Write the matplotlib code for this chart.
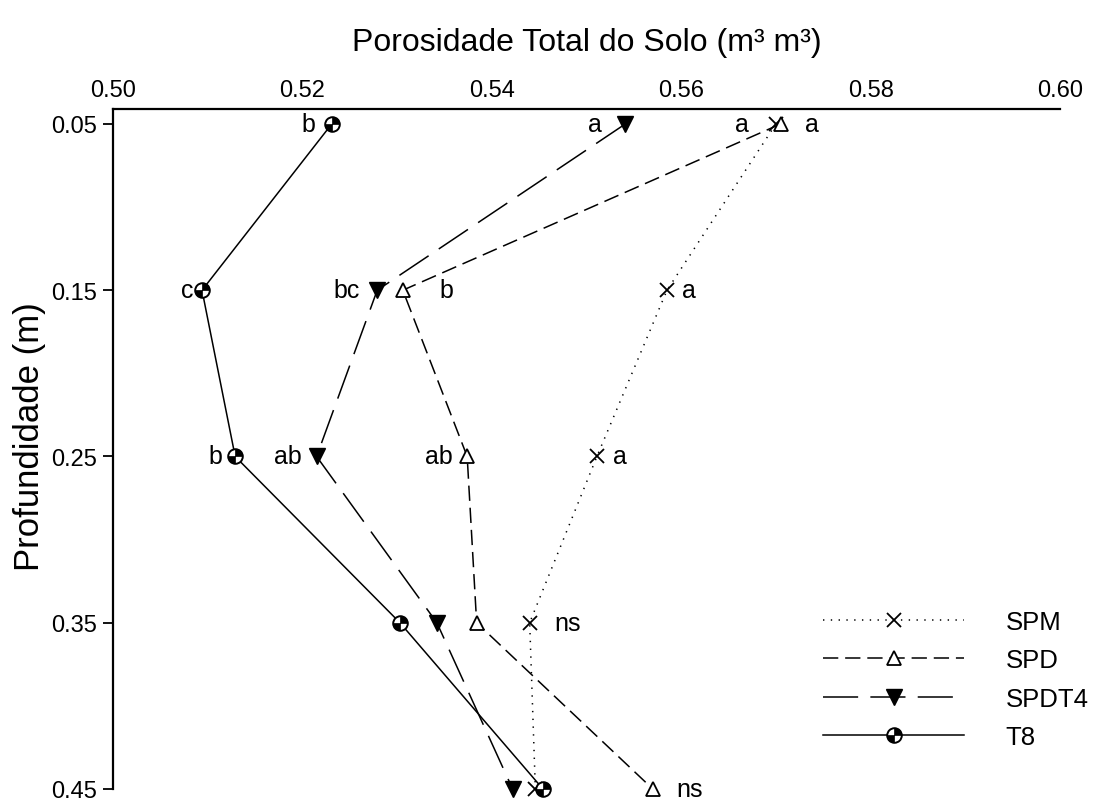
import numpy as np
import matplotlib
matplotlib.use("Agg")
import matplotlib.pyplot as plt
from matplotlib.path import Path
from matplotlib.legend_handler import HandlerTuple

plt.rcParams['font.family'] = ['Liberation Sans', 'DejaVu Sans']

depth = [0.05, 0.15, 0.25, 0.35, 0.45]
spm = [0.5700, 0.5585, 0.5511, 0.5440, 0.5446]
spd = [0.5705, 0.5306, 0.5374, 0.5384, 0.5570]
spdt4 = [0.5541, 0.5279, 0.5215, 0.5342, 0.5422]
t8 = [0.5231, 0.5094, 0.5129, 0.5303, 0.5454]

spm_lab = ['a', 'a', 'a', 'ns', '']
spd_lab = ['a', 'b', 'ab', '', 'ns']
spdt4_lab = ['a', 'bc', 'ab', '', '']
t8_lab = ['b', 'c', 'b', '', '']

# label placement (styling): side and gap in pixels from marker centre
spm_side = ['r', 'r', 'r', 'r', 'r']
spm_gap = [29, 15, 16, 25, 0]
spd_side = ['l', 'r', 'l', 'r', 'r']
spd_gap = [32, 37, 14, 0, 24]
spdt4_side = ['l', 'l', 'l', 'l', 'l']
spdt4_gap = [23, 17, 15, 0, 0]
t8_side = ['l', 'l', 'l', 'l', 'l']
t8_gap = [16, 9, 13, 0, 0]

xticks = [0.50, 0.52, 0.54, 0.56, 0.58, 0.60]
yticks = [0.05, 0.15, 0.25, 0.35, 0.45]

fig = plt.figure(figsize=(10.98, 8.03), dpi=100)
ax = fig.add_axes([113/1098, 1-790/803, (1060-113)/1098, (790-110)/803])

lw = 1.1
common = dict(color='black', lw=lw, clip_on=False)
l1, = ax.plot(spm, depth, ls=(0, (0.9, 4.2)), marker='x',
              ms=10, mew=1.3, label='SPM', **common)
l2, = ax.plot(spd, depth, ls=(0, (10, 4.5)), marker='^',
              ms=10, mfc='white', mec='black', mew=1.3, label='SPD', **common)
l3, = ax.plot(spdt4, depth, ls=(0, (23, 8)), marker='v',
              ms=12, mfc='black', mec='black', label='SPDT4', **common)
l4, = ax.plot(t8, depth, ls='-', marker='o',
              ms=10.5, mfc='white', mec='black', mew=1.4, label='T8', **common)

# quadrant fill marker (top-right and bottom-left)
th1 = np.linspace(0, np.pi/2, 20)
verts = [(0, 0)] + [(np.cos(t), np.sin(t)) for t in th1] + [(0, 0)]
th2 = np.linspace(np.pi, 1.5*np.pi, 20)
verts2 = [(0, 0)] + [(np.cos(t), np.sin(t)) for t in th2] + [(0, 0)]
codes = [Path.MOVETO] + [Path.LINETO]*20 + [Path.CLOSEPOLY]
quad = Path(verts + verts2, codes + codes)
q, = ax.plot(t8, depth, ls='none', marker=quad, ms=10.5, mfc='black', mec='black',
             mew=0.5, clip_on=False)

def annotate(xs, labs, sides, gaps):
    for x, y, s, sd, g in zip(xs, depth, labs, sides, gaps):
        if not s:
            continue
        off = g / 1.389
        off = -off if sd == 'l' else off
        ax.annotate(s, (x, y), xytext=(off, 0), textcoords='offset points',
                    ha='right' if sd == 'l' else 'left', va='center',
                    fontsize=18)

annotate(spm, spm_lab, spm_side, spm_gap)
annotate(spd, spd_lab, spd_side, spd_gap)
annotate(spdt4, spdt4_lab, spdt4_side, spdt4_gap)
annotate(t8, t8_lab, t8_side, t8_gap)

ax.set_xlim(0.50, 0.60)
ax.set_ylim(0.45, 0.041)
ax.xaxis.tick_top()
ax.xaxis.set_label_position('top')
ax.set_xticks(xticks)
ax.set_xticklabels([f'{v:.2f}' for v in xticks])
ax.set_yticks(yticks)
ax.set_yticklabels([f'{v:.2f}' for v in yticks])
ax.tick_params(axis='x', length=0, pad=6, labelsize=17)
ax.tick_params(axis='y', length=7.5, width=1.3, pad=4, labelsize=17, direction='out')
ax.spines['right'].set_visible(False)
ax.spines['bottom'].set_visible(False)
ax.spines['top'].set_linewidth(1.6)
ax.spines['left'].set_linewidth(1.6)
ax.spines['left'].set_bounds(0.041, 0.45)
ax.set_xlabel('Porosidade Total do Solo (m³ m³)', fontsize=23, labelpad=21)
ax.set_ylabel('Profundidade (m)', fontsize=25)
ax.yaxis.set_label_coords(-0.071, (790-437)/680)

ax.legend([l1, l2, l3, (l4, q)], ['SPM', 'SPD', 'SPDT4', 'T8'],
          handler_map={tuple: HandlerTuple(ndivide=1, pad=0)},
          frameon=False, fontsize=18.5, loc='upper left',
          bbox_to_anchor=(823/1098, 1-611/803), bbox_transform=fig.transFigure,
          borderpad=0, borderaxespad=0,
          handlelength=5.5, handletextpad=1.6, labelspacing=0.56)

fig.savefig('out.png', dpi=100)
